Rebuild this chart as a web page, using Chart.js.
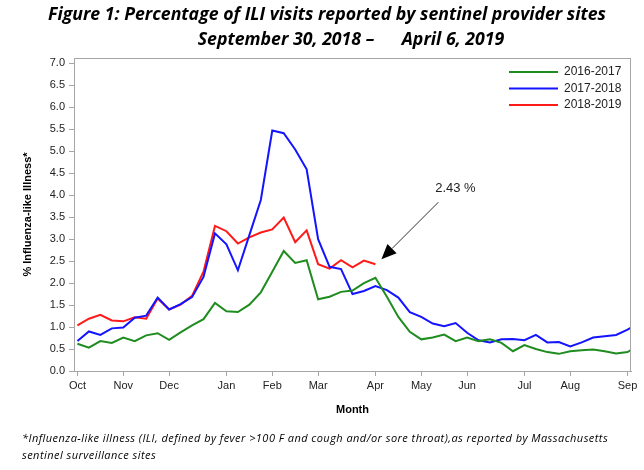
<!DOCTYPE html>
<html>
<head>
<meta charset="utf-8">
<script src="https://cdn.jsdelivr.net/npm/chart.js@4.4.0/dist/chart.umd.min.js"></script>
<style>
  html, body { margin: 0; padding: 0; background: #fff; }
  #wrap { position: relative; width: 644px; height: 470px; overflow: hidden; }
  #chart { position: absolute; left: 0; top: 0; }
  .title {
    position: absolute; left: 0; width: 654px; text-align: center;
    font-family: "Open Sans", sans-serif; font-weight: bold; font-style: italic;
    font-size: 17.7px; color: #000; white-space: pre; line-height: 22px;
  }
  .note {
    position: absolute; left: 22px; font-family: "Open Sans", sans-serif;
    font-style: italic; font-size: 11px; letter-spacing: 0.45px;
    color: #000; white-space: nowrap;
  }
</style>
</head>
<body>
<div id="wrap">
  <canvas id="chart" width="644" height="470"></canvas>
  <div class="title" style="top:2px">Figure 1: Percentage of ILI visits reported by sentinel provider sites</div>
  <div class="title" style="top:27px; left:24px">September 30, 2018 –      April 6, 2019</div>
  <div class="note" style="top:430px">*Influenza-like illness (ILI, defined by fever &gt;100 F and cough and/or sore throat),as reported by Massachusetts</div>
  <div class="note" style="top:447px">sentinel surveillance sites</div>
</div>
<script>
// weekly ILI %, week 0 = first week of October
const seasonLabels = ["2016-2017", "2017-2018", "2018-2019"];
const seasonColors = ["#1e8c1e", "#1414ff", "#ff1a1a"];

const season2016 = [0.62, 0.53, 0.68, 0.64, 0.76, 0.68, 0.81, 0.86, 0.71, 0.88,
  1.04, 1.18, 1.55, 1.36, 1.34, 1.51, 1.79, 2.26, 2.73, 2.46,
  2.52, 1.63, 1.69, 1.80, 1.83, 2.00, 2.12, 1.69, 1.23, 0.89,
  0.72, 0.76, 0.83, 0.68, 0.76, 0.68, 0.72, 0.64, 0.45, 0.59,
  0.50, 0.43, 0.39, 0.45, 0.47, 0.49, 0.45, 0.40, 0.43, 0.60];

const season2017 = [0.68, 0.90, 0.82, 0.97, 0.99, 1.21, 1.26, 1.67, 1.40, 1.52,
  1.68, 2.14, 3.13, 2.88, 2.29, 3.09, 3.89, 5.47, 5.41, 5.04,
  4.59, 3.00, 2.37, 2.32, 1.75, 1.82, 1.93, 1.84, 1.67, 1.34,
  1.23, 1.08, 1.02, 1.09, 0.87, 0.70, 0.65, 0.72, 0.73, 0.70,
  0.82, 0.65, 0.66, 0.56, 0.65, 0.76, 0.79, 0.82, 0.94, 1.10];

const season2018 = [1.04, 1.19, 1.28, 1.15, 1.13, 1.22, 1.19, 1.65, 1.40, 1.51,
  1.71, 2.26, 3.30, 3.18, 2.90, 3.04, 3.15, 3.22, 3.49, 2.93,
  3.20, 2.43, 2.33, 2.52, 2.36, 2.51, 2.43];

// month ticks: week index where each month label sits
const monthLabels = ["Oct", "Nov", "Dec", "Jan", "Feb", "Mar", "Apr", "May", "Jun", "Jul", "Aug", "Sep"];
const monthWeeks = [0, 4, 8, 13, 17, 21, 26, 30, 34, 39, 43, 48];

const toPoints = arr => arr.map((v, i) => ({ x: i, y: v }));
const AXIS_GREY = "#a6a6a6";
const TXT = "#222";

/* ===== PLOT BORDER + LEGEND + ARROW ===== */
const extras = {
  id: "extras",
  afterDatasetsDraw(chart) {
    const { ctx, chartArea: a, scales } = chart;
    ctx.save();
    ctx.strokeStyle = AXIS_GREY;
    ctx.lineWidth = 1;
    ctx.strokeRect(a.left + 0.5, a.top + 0.5, a.right - a.left - 1, a.bottom - a.top);

    // legend, top right inside the plot
    ctx.font = "12px 'Liberation Sans', Arial, sans-serif";
    ctx.textBaseline = "middle";
    ctx.textAlign = "left";
    chart.data.datasets.forEach((ds, i) => {
      const y = a.top + 14 + i * 16.5;
      ctx.strokeStyle = ds.borderColor;
      ctx.lineWidth = 2;
      ctx.beginPath();
      ctx.moveTo(a.right - 122, y);
      ctx.lineTo(a.right - 73, y);
      ctx.stroke();
      ctx.fillStyle = TXT;
      ctx.fillText(ds.label, a.right - 67, y);
    });

    // arrow pointing at the latest 2018-2019 value
    const lastIdx = season2018.length - 1;
    const last = season2018[lastIdx];
    const px = scales.x.getPixelForValue(lastIdx);
    const py = scales.y.getPixelForValue(last);
    const tipX = px + 6, tipY = py - 5;
    const startX = px + 63, startY = py - 62;
    const ang = Math.atan2(tipY - startY, tipX - startX);
    const headLen = 15, headW = 6.5;
    const baseX = tipX - headLen * Math.cos(ang), baseY = tipY - headLen * Math.sin(ang);
    ctx.strokeStyle = "#333";
    ctx.lineWidth = 1;
    ctx.beginPath();
    ctx.moveTo(startX, startY);
    ctx.lineTo(baseX, baseY);
    ctx.stroke();
    ctx.fillStyle = "#000";
    ctx.beginPath();
    ctx.moveTo(tipX, tipY);
    ctx.lineTo(baseX + headW * Math.sin(ang), baseY - headW * Math.cos(ang));
    ctx.lineTo(baseX - headW * Math.sin(ang), baseY + headW * Math.cos(ang));
    ctx.closePath();
    ctx.fill();

    ctx.font = "13px 'Liberation Sans', Arial, sans-serif";
    ctx.textAlign = "center";
    ctx.fillStyle = TXT;
    ctx.fillText(last.toFixed(2) + " %", px + 80, py - 76);
    ctx.restore();
  }
};

/* ===== CHART ===== */
const ctx = document.getElementById("chart").getContext("2d");

const chart = new Chart(ctx, {
  type: "line",
  data: {
    datasets: [season2016, season2017, season2018].map((arr, i) => ({
      label: seasonLabels[i],
      data: toPoints(arr),
      borderColor: seasonColors[i],
      borderWidth: 2,
      pointRadius: 0,
      tension: 0,
      fill: false
    }))
  },
  options: {
    responsive: false,
    animation: false,
    layout: { padding: { top: 58, right: 13, left: 0, bottom: 0 } },
    plugins: {
      legend: { display: false },
      title: { display: false },
      tooltip: { enabled: false }
    },
    scales: {
      x: {
        type: "linear",
        min: -0.3,
        max: 48.3,
        afterFit(scale) { scale.height = 99; },
        afterBuildTicks(scale) { scale.ticks = monthWeeks.map(v => ({ value: v })); },
        ticks: {
          autoSkip: false,
          maxRotation: 0,
          padding: 3,
          color: TXT,
          font: { family: "'Liberation Sans', Arial, sans-serif", size: 11 },
          callback: v => monthLabels[monthWeeks.indexOf(v)]
        },
        grid: { drawOnChartArea: false, drawTicks: true, tickLength: 5, color: AXIS_GREY },
        border: { color: AXIS_GREY },
        title: {
          display: true,
          text: "Month",
          color: "#000",
          font: { family: "'Liberation Sans', Arial, sans-serif", size: 11, weight: "bold" },
          padding: { top: 0, bottom: 53 }
        }
      },
      y: {
        min: 0,
        max: 7.12,
        afterFit(scale) { scale.width = 74; },
        ticks: {
          stepSize: 0.5,
          includeBounds: false,
          padding: 4,
          color: TXT,
          font: { family: "'Liberation Sans', Arial, sans-serif", size: 11 },
          callback: v => v.toFixed(1)
        },
        grid: { drawOnChartArea: false, drawTicks: true, tickLength: 5, color: AXIS_GREY },
        border: { color: AXIS_GREY },
        title: {
          display: true,
          text: "% Influenza-like Illness*",
          color: "#000",
          font: { family: "'Liberation Sans', Arial, sans-serif", size: 11, weight: "bold" },
          padding: { top: 21, bottom: 0 }
        }
      }
    }
  },
  plugins: [extras]
});
</script>
</body>
</html>
